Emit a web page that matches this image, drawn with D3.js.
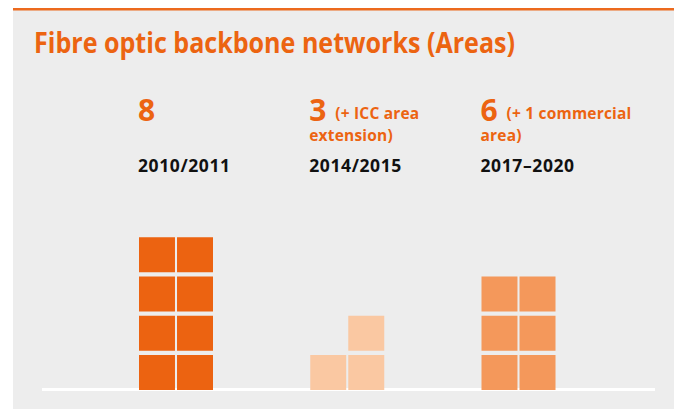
<!DOCTYPE html>
<html>
<head>
<meta charset="utf-8">
<script src="https://cdn.jsdelivr.net/npm/d3@7"></script>
<style>
  html, body { margin: 0; padding: 0; background: #fff; }
  svg { display: block; }
  .title { font-family: "Open Sans", sans-serif; font-weight: 700; fill: #ec6411; }
  .value { font-family: "Open Sans", sans-serif; font-weight: 700; fill: #ec6411; }
  .period { font-family: "Open Sans", sans-serif; font-weight: 700; fill: #111; }
</style>
</head>
<body>
<svg id="chart"></svg>
<script>
// chart data
const periods = ["2010/2011", "2014/2015", "2017–2020"];
const areaCounts = [8, 3, 6];
const noteLines = [[], ["(+ ICC area", "extension)"], ["(+ 1 commercial", "area)"]];
const tileColors = ["#ec6311", "#fac8a2", "#f4985b"];

const WIDTH = 678;
const HEIGHT = 409;

const svg = d3.select("#chart").attr("width", WIDTH).attr("height", HEIGHT);

// grey panel + orange top rule
svg.append("rect")
  .attr("x", 13).attr("y", 8)
  .attr("width", 661).attr("height", HEIGHT - 8)
  .attr("fill", "#ededed");
svg.append("rect")
  .attr("x", 13).attr("y", 8)
  .attr("width", 661).attr("height", 2.5)
  .attr("fill", "#ec6a1e");

svg.append("text")
  .attr("class", "title")
  .attr("x", 34).attr("y", 53)
  .attr("font-size", 28)
  .attr("textLength", 481)
  .attr("lengthAdjust", "spacingAndGlyphs")
  .text("Fibre optic backbone networks (Areas)");

// scales
const TILE = 35;
const x = d3.scalePoint().domain(periods).range([176, 518.5]);
const y = d3.scaleLinear().domain([0, 4]).range([390, 233]);
const col = d3.scaleBand().domain([0, 1]).range([-37, 37]).paddingInner(4 / 74);

// baseline
svg.append("rect")
  .attr("x", 42).attr("y", 388)
  .attr("width", 613).attr("height", 3)
  .attr("fill", "#fff");

// tiles: two columns, filled bottom up; an odd last tile sits in the right column
const tiles = [];
periods.forEach((p, gi) => {
  const n = areaCounts[gi];
  for (let i = 0; i < n; i++) {
    const row = Math.floor(i / 2);
    const c = (n % 2 === 1 && i === n - 1) ? 1 : i % 2;
    tiles.push({ period: p, gi, row, c });
  }
});

svg.append("g")
  .selectAll("rect")
  .data(tiles)
  .join("rect")
  .attr("x", (d) => x(d.period) + col(d.c))
  .attr("y", (d) => y(d.row) - TILE)
  .attr("width", col.bandwidth())
  .attr("height", TILE)
  .attr("fill", (d) => tileColors[d.gi]);

// labels above each group
const groups = svg.append("g")
  .selectAll("g")
  .data(periods)
  .join("g")
  .attr("transform", (d) => `translate(${x(d) - 38},0)`);

// number + note as one text block (tspans) so the wrapped note sits under the number
groups.each(function (d, i) {
  const t = d3.select(this).append("text")
    .attr("class", "value")
    .attr("x", 0).attr("y", 121);
  t.append("tspan")
    .attr("font-size", 30)
    .text(areaCounts[i]);
  noteLines[i].forEach((line, li) => {
    const ts = t.append("tspan")
      .attr("font-size", 15.5)
      .attr("letter-spacing", 0.2)
      .text(line);
    if (li === 0) ts.attr("x", 26).attr("y", 119);
    else ts.attr("x", 0).attr("y", 119 + li * 21.5);
  });
});

groups.append("text")
  .attr("class", "period")
  .attr("x", 0).attr("y", 172)
  .attr("font-size", 17.5)
  .attr("letter-spacing", 0.6)
  .text((d) => d);
</script>
</body>
</html>
